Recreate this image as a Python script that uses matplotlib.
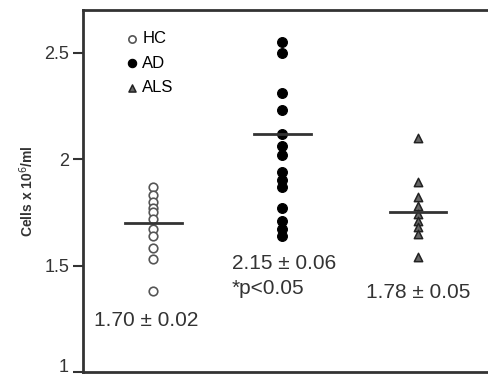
import numpy as np
import matplotlib
matplotlib.use("Agg")
import matplotlib.pyplot as plt

plt.rcParams['font.family'] = ['Liberation Sans', 'DejaVu Sans']

# cell counts (x10^6/ml)
hc = [1.87, 1.83, 1.80, 1.77, 1.75, 1.72, 1.67, 1.64, 1.58, 1.53, 1.38]
ad = [2.55, 2.50, 2.31, 2.23, 2.12, 2.06, 2.02, 1.94, 1.90, 1.87, 1.77, 1.71, 1.67, 1.64]
als = [2.10, 1.89, 1.82, 1.78, 1.74, 1.71, 1.68, 1.65, 1.54]
means = [1.70, 2.12, 1.75]
group_x = [1, 2, 3.05]
labels = ["HC", "AD", "ALS"]
stats = ["1.70 \u00b1 0.02", "2.15 \u00b1 0.06", "1.78 \u00b1 0.05"]
yticks = [1, 1.5, 2, 2.5]
ytick_labels = ["1", "1.5", "2", "2.5"]

dark = "#333333"
fig = plt.figure(figsize=(4.89, 3.79), dpi=100)
ax = fig.add_axes([83 / 489, 7 / 379, 1 - 83 / 489, 362 / 379])

ax.scatter([group_x[0]] * len(hc), hc, s=38, facecolor="white", edgecolor="#555555",
           linewidth=1.2, zorder=3, label=labels[0])
ax.scatter([group_x[1]] * len(ad), ad, s=50, facecolor="black", edgecolor="black",
           linewidth=0.8, zorder=3, label=labels[1])
ax.scatter([group_x[2]] * len(als), als, s=36, marker="^", facecolor="#666666",
           edgecolor="#222222", linewidth=1.1, zorder=3, label=labels[2])

for x, m in zip(group_x, means):
    ax.plot([x - 0.22, x + 0.22], [m, m], color=dark, lw=2, zorder=4)

# group statistics text
ax.text(group_x[0] - 0.05, 1.24, stats[0], ha="center", va="center", fontsize=15, color=dark)
ax.text(1.61, 1.51, stats[1], ha="left", va="center", fontsize=15, color=dark)
ax.text(1.61, 1.39, "*p<0.05", ha="left", va="center", fontsize=15, color=dark)
ax.text(group_x[2], 1.375, stats[2], ha="center", va="center", fontsize=15, color=dark)

ax.legend(loc="upper left", bbox_to_anchor=(0.08, 0.96), frameon=False, fontsize=12,
          handletextpad=0.0, handlelength=1.2, labelspacing=0.58, borderaxespad=0,
          markerscale=0.85)

ax.set_xlim(0.457, 3.60)
ax.set_ylim(1.0, 2.70)
ax.set_yticks(yticks)
ax.set_yticklabels(ytick_labels, fontsize=13, color=dark)
ax.get_yticklabels()[0].set_va("baseline")
ax.set_xticks([])
ax.tick_params(axis="y", direction="out", length=7, width=1.5, color=dark, pad=3)
ax.set_ylabel("Cells x 10$^6$/ml", fontsize=10, fontweight="bold", color=dark, labelpad=6)

ax.spines["right"].set_visible(False)
for s in ["left", "top", "bottom"]:
    ax.spines[s].set_linewidth(2)
    ax.spines[s].set_color(dark)

fig.savefig("out.png", dpi=100)
